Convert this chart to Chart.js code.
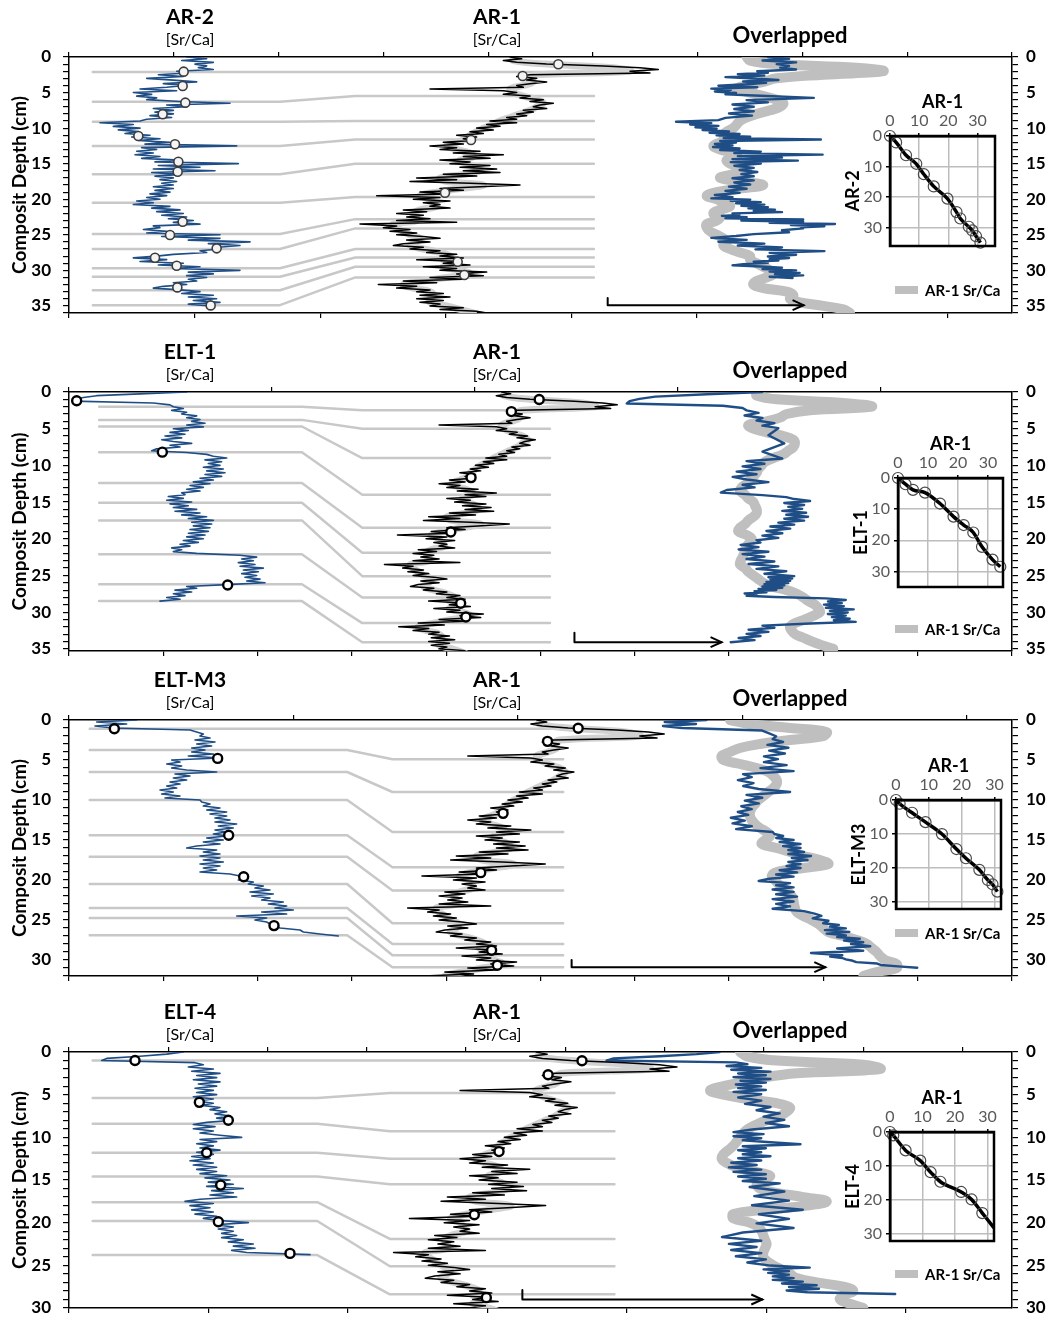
<!DOCTYPE html>
<html>
<head>
<meta charset="utf-8">
<title>Sr/Ca depth correlation</title>
<script src="https://cdn.jsdelivr.net/npm/chart.js@4.4.1/dist/chart.umd.min.js"></script>
<style>
  body { margin: 0; background: #fff; }
  #page { position: relative; width: 1053px; height: 1317px; overflow: hidden; }
  #page canvas { position: absolute; }
</style>
</head>
<body>
<div id="page"></div>
<script>
// Sr/Ca profiles against composite depth (cm)
// profiles are sampled every 0.25 cm, overlap curves every 0.5 cm

const PROFILE_STEP = 0.25;
const OVERLAP_STEP = 0.5;

// reference core AR-1
const AR1_SRCA = [
    9.040, 9.075, 9.020, 9.060, 9.150, 9.320, 9.430, 9.485,
    9.400, 9.460, 9.100, 9.060, 9.120, 9.090, 9.150, 9.100,
    9.060, 9.080, 8.800, 9.020, 9.060, 9.020, 9.100, 9.070,
    9.140, 9.100, 9.170, 9.130, 9.110, 9.150, 9.080, 9.110,
    9.060, 9.090, 9.030, 9.060, 8.980, 9.060, 8.970, 9.010,
    8.940, 8.990, 8.920, 8.960, 8.880, 8.940, 8.900, 8.930,
    8.840, 8.900, 8.800, 8.880, 8.830, 8.950, 8.870, 9.020,
    8.900, 8.980, 8.830, 8.920, 8.860, 8.980, 8.890, 9.000,
    8.900, 9.010, 8.840, 8.940, 8.760, 8.880, 8.740, 8.920,
    9.070, 8.950, 8.830, 8.900, 8.770, 8.850, 8.640, 8.830,
    8.750, 8.860, 8.780, 8.830, 8.800, 8.860, 8.720, 8.790,
    8.700, 8.780, 8.730, 8.800, 8.700, 8.880, 8.590, 8.700,
    8.660, 8.740, 8.680, 8.760, 8.700, 8.780, 8.830, 8.730,
    8.800, 8.720, 8.690, 8.780, 8.740, 8.830, 8.790, 8.880,
    8.830, 8.900, 8.760, 8.890, 8.840, 8.920, 8.780, 8.880,
    8.830, 8.970, 8.880, 8.960, 8.800, 8.900, 8.720, 8.820,
    8.645, 8.760, 8.700, 8.800, 8.760, 8.840, 8.770, 8.860,
    8.760, 8.840, 8.770, 8.830, 8.800, 8.900, 8.830, 8.940,
    8.970
];
// smoothed AR-1 drawn as the halo behind the raw profile
const AR1_SMOOTH = [
    9.05, 9.05, 9.15, 9.35, 9.40, 9.12, 9.10, 9.11,
    9.08, 9.04, 9.05, 9.08, 9.12, 9.14, 9.12, 9.10,
    9.07, 9.04, 9.01, 8.99, 8.96, 8.94, 8.92, 8.91,
    8.88, 8.85, 8.88, 8.92, 8.93, 8.89, 8.91, 8.94,
    8.95, 8.90, 8.83, 8.85, 8.96, 8.89, 8.82, 8.77,
    8.80, 8.81, 8.82, 8.77, 8.75, 8.76, 8.76, 8.69,
    8.70, 8.72, 8.74, 8.77, 8.76, 8.74, 8.78, 8.83,
    8.86, 8.84, 8.87, 8.84, 8.89, 8.92, 8.85, 8.78,
    8.72, 8.75, 8.80, 8.81, 8.80, 8.80, 8.85, 8.89,
    8.93
];
const AR1_MARK_DEPTH = [1.03, 2.67, 11.67, 19.08, 28.79, 30.66];
const AR1_MARK_SRCA = [9.185, 9.078, 8.923, 8.845, 8.883, 8.903];

// AR-2
const AR2_SRCA = [
    9.060, 9.120, 9.045, 9.140, 9.085, 9.120, 9.095, 9.140,
    9.030, 9.060, 8.975, 9.050, 8.940, 9.020, 9.090, 8.990,
    9.055, 9.000, 8.920, 9.030, 8.900, 8.955, 8.910, 8.970,
    8.940, 9.040, 9.190, 9.000, 9.060, 8.960, 9.020, 8.965,
    9.020, 8.950, 9.015, 8.940, 8.920, 8.800, 8.900, 8.840,
    8.920, 8.855, 8.915, 8.875, 8.950, 8.895, 8.980, 8.915,
    9.010, 8.935, 9.210, 8.925, 8.970, 8.910, 8.960, 8.905,
    8.980, 8.925, 9.040, 8.965, 9.215, 8.975, 9.100, 8.960,
    9.145, 8.955, 9.040, 8.965, 9.020, 8.980, 9.030, 8.985,
    9.020, 8.960, 9.020, 8.965, 9.010, 8.950, 9.000, 8.940,
    8.980, 8.910, 8.960, 8.900, 9.010, 8.955, 9.040, 8.970,
    9.050, 8.985, 9.060, 9.005, 9.080, 9.020, 9.100, 8.960,
    8.980, 8.930, 9.000, 8.940, 9.160, 8.985, 9.160, 9.065,
    9.250, 9.125, 9.220, 9.155, 9.160, 9.100, 9.120, 9.020,
    8.970, 8.900, 9.000, 8.920, 9.050, 8.975, 9.100, 9.025,
    9.220, 9.065, 9.140, 9.060, 9.120, 9.065, 9.090, 9.020,
    9.060, 8.990, 8.960, 9.040, 9.100, 9.045, 9.140, 9.065,
    9.150, 9.080, 9.160, 9.065,
    9.130
];
const AR2_MARK_DEPTH = [2.06, 4.08, 6.42, 8.06, 11.11, 12.28, 14.72, 16.13, 23.16, 25.03, 26.91, 28.22, 29.35, 32.40, 34.93];
const AR2_MARK_SRCA = [9.051, 9.048, 9.056, 8.988, 8.915, 9.025, 9.035, 9.033, 9.048, 9.010, 9.150, 8.965, 9.030, 9.032, 9.132];

// ELT-1
const ELT1_SRCA = [
    9.060, 8.920, 8.790, 8.750, 8.725, 8.718, 8.960, 9.010,
    9.020, 9.050, 9.015, 9.060, 9.045, 9.090, 9.060, 9.100,
    9.075, 9.115, 9.060, 9.110, 9.020, 9.065, 9.010, 9.055,
    8.995, 9.045, 8.985, 9.020, 9.075, 9.010, 9.040, 8.970,
    8.955, 9.060, 9.120, 9.140, 9.180, 9.115, 9.165, 9.125,
    9.160, 9.110, 9.170, 9.120, 9.175, 9.115, 9.165, 9.100,
    9.140, 9.080, 9.130, 9.070, 9.110, 9.060, 9.100, 9.045,
    9.055, 9.005, 9.050, 9.000, 9.075, 9.010, 9.065, 9.020,
    9.090, 9.025, 9.100, 9.045, 9.120, 9.065, 9.140, 9.075,
    9.135, 9.080, 9.130, 9.070, 9.125, 9.065, 9.115, 9.060,
    9.110, 9.050, 9.095, 9.040, 9.070, 9.015, 9.045, 9.020,
    9.090, 9.220, 9.270, 9.225, 9.260, 9.215, 9.265, 9.220,
    9.290, 9.230, 9.275, 9.225, 9.270, 9.235, 9.280, 9.240,
    9.295, 9.180, 9.060, 9.090, 9.025, 9.075, 9.020, 9.055,
    9.000, 9.040, 8.980
];
const ELT1_MARK_DEPTH = [1.2, 8.2, 26.3];
const ELT1_MARK_SRCA = [8.730, 8.987, 9.183];

// ELT-M3
const ELTM3_SRCA = [
    8.910, 8.790, 8.880, 8.785, 8.840, 9.070, 9.090, 9.110,
    9.100, 9.130, 9.085, 9.145, 9.090, 9.135, 9.075, 9.115,
    9.075, 9.140, 9.065, 9.160, 9.015, 9.040, 9.000, 9.045,
    9.015, 9.060, 9.150, 9.025, 9.070, 9.020, 9.060, 9.010,
    9.040, 9.000, 9.030, 8.980, 9.020, 8.985, 9.040, 8.995,
    9.100, 9.105, 9.130, 9.110, 9.160, 9.120, 9.180, 9.130,
    9.180, 9.145, 9.190, 9.145, 9.210, 9.155, 9.200, 9.145,
    9.180, 9.140, 9.180, 9.120, 9.170, 9.110, 9.160, 9.090,
    9.060, 9.150, 9.110, 9.160, 9.100, 9.160, 9.110, 9.170,
    9.100, 9.160, 9.110, 9.150, 9.100, 9.190, 9.220, 9.240,
    9.215, 9.260, 9.245, 9.290, 9.265, 9.310, 9.250, 9.320,
    9.255, 9.310, 9.285, 9.350, 9.305, 9.360, 9.325, 9.380,
    9.285, 9.360, 9.210, 9.300, 9.265, 9.300, 9.310, 9.330,
    9.340, 9.400, 9.410, 9.460,
    9.515
];
const ELTM3_MARK_DEPTH = [1.1, 4.8, 14.4, 19.6, 25.7];
const ELTM3_MARK_SRCA = [8.843, 9.153, 9.186, 9.231, 9.322];

// ELT-4
const ELT4_SRCA = [
    9.050, 9.000, 8.920, 8.820, 8.805, 9.085, 9.110, 9.065,
    9.140, 9.075, 9.160, 9.090, 9.150, 9.080, 9.160, 9.095,
    9.150, 9.085, 9.140, 9.090, 9.150, 9.080, 9.140, 9.090,
    9.140, 9.105, 9.160, 9.130, 9.180, 9.145, 9.190, 9.150,
    9.200, 9.120, 9.080, 9.145, 9.080, 9.140, 9.100, 9.160,
    9.225, 9.100, 9.150, 9.090, 9.140, 9.100, 9.160, 9.090,
    9.140, 9.075, 9.130, 9.070, 9.140, 9.080, 9.150, 9.090,
    9.150, 9.100, 9.180, 9.115, 9.190, 9.125, 9.200, 9.120,
    9.230, 9.135, 9.200, 9.130, 9.210, 9.100, 9.055, 9.140,
    9.070, 9.130, 9.075, 9.140, 9.085, 9.150, 9.110, 9.160,
    9.245, 9.145, 9.200, 9.155, 9.200, 9.165, 9.210, 9.165,
    9.230, 9.185, 9.260, 9.200, 9.265, 9.195, 9.240, 9.430
];
const ELT4_MARK_DEPTH = [1.0, 5.9, 8.0, 11.8, 15.6, 19.9, 23.6];
const ELT4_MARK_SRCA = [8.905, 9.098, 9.185, 9.120, 9.162, 9.155, 9.370];

// AR-1 Sr/Ca as shown under each overlapped core
const OVERLAP_AR1_AR2 = [
    8.97, 8.98, 9.06, 9.30, 9.38, 9.20, 9.06, 9.02,
    8.97, 8.94, 8.98, 9.02, 9.06, 9.08, 9.07, 9.04,
    9.00, 8.97, 8.95, 8.94, 8.93, 8.91, 8.90, 8.91,
    8.89, 8.87, 8.89, 8.93, 8.94, 8.91, 8.92, 8.95,
    8.97, 8.93, 8.89, 8.95, 9.02, 8.95, 8.88, 8.85,
    8.88, 8.90, 8.92, 8.89, 8.87, 8.89, 8.88, 8.85,
    8.85, 8.86, 8.88, 8.90, 8.91, 8.90, 8.92, 8.95,
    8.98, 8.98, 9.00, 9.02, 9.04, 9.05, 9.03, 9.00,
    8.99, 9.02, 9.09, 9.11, 9.10, 9.13, 9.20, 9.26,
    9.28
];
const OVERLAP_AR1_ELT1 = [
    9.000, 9.000, 9.060, 9.260, 9.345, 9.160, 9.090, 9.070,
    9.030, 8.975, 8.990, 9.030, 9.080, 9.110, 9.115, 9.110,
    9.095, 9.080, 9.050, 9.025, 9.015, 9.005, 9.000, 8.990,
    8.980, 8.970, 8.955, 8.950, 8.965, 8.975, 8.990, 8.995,
    9.000, 9.000, 8.990, 8.975, 8.965, 8.950, 8.945, 8.970,
    8.985, 8.980, 8.970, 8.965, 8.962, 8.958, 8.952, 8.950,
    8.965, 8.975, 8.990, 9.005, 9.020, 9.045, 9.090, 9.120,
    9.140, 9.155, 9.175, 9.185, 9.190, 9.170, 9.145, 9.115,
    9.100, 9.105, 9.115, 9.140, 9.165, 9.195, 9.230
];
const OVERLAP_AR1_ELTM3 = [
    8.920, 8.980, 9.100, 9.210, 9.200, 9.100, 9.010, 8.950,
    8.920, 8.895, 8.900, 8.950, 9.000, 9.035, 9.050, 9.060,
    9.060, 9.050, 9.035, 9.020, 9.005, 8.995, 8.985, 8.980,
    8.980, 8.985, 8.995, 9.010, 9.030, 9.040, 9.025, 9.015,
    9.060, 9.100, 9.140, 9.190, 9.215, 9.140, 9.060, 9.045,
    9.055, 9.065, 9.080, 9.095, 9.105, 9.110, 9.112, 9.115,
    9.120, 9.140, 9.165, 9.185, 9.200, 9.215, 9.260, 9.300,
    9.330, 9.345, 9.360, 9.370, 9.385, 9.420, 9.420, 9.360,
    9.320
];
const OVERLAP_AR1_ELT4 = [
    8.950, 8.970, 9.060, 9.320, 9.370, 9.120, 9.020, 8.960,
    8.900, 8.860, 8.900, 8.970, 9.060, 9.100, 9.090, 9.070,
    9.030, 9.000, 8.975, 8.960, 8.950, 8.940, 8.930, 8.915,
    8.900, 8.895, 8.910, 8.940, 8.990, 9.040, 9.020, 9.000,
    9.010, 9.060, 9.140, 9.210, 9.150, 9.020, 8.930, 8.930,
    8.980, 9.005, 9.015, 9.020, 9.025, 9.030, 9.025, 9.020,
    9.020, 9.030, 9.050, 9.075, 9.100, 9.120, 9.180, 9.260,
    9.290, 9.260, 9.250, 9.280,
    9.320
];

// tie points: depth in the core -> depth in AR-1 (cm)
const TIE_AR2_CORE = [2.1, 6.3, 9.1, 12.5, 16.5, 20.5, 24.9, 27.0, 29.7, 30.9, 32.8, 34.9];
const TIE_AR2_AR1 = [2.1, 5.5, 9.0, 11.6, 15.0, 19.7, 22.8, 24.1, 27.0, 28.2, 29.5, 31.0];
const TIE_ELT1_CORE = [2.0, 3.8, 4.7, 8.2, 12.4, 15.1, 17.5, 22.1, 26.2, 28.5];
const TIE_ELT1_AR1 = [2.5, 5.0, 9.0, 14.0, 18.5, 21.9, 25.1, 28.0, 31.5, 34.1];
const TIE_ELTM3_CORE = [1.1, 3.75, 6.5, 10.0, 14.4, 17.1, 20.5, 23.5, 24.75, 26.9];
const TIE_ELTM3_AR1 = [1.1, 4.9, 9.0, 14.0, 18.4, 21.3, 25.4, 28.0, 29.4, 30.9];
const TIE_ELT4_CORE = [1.0, 5.4, 8.4, 11.8, 14.6, 17.6, 19.8, 23.8];
const TIE_ELT4_AR1 = [1.0, 4.8, 9.3, 12.5, 15.5, 21.9, 25.1, 28.4];

const PANELS = [
    { core: 'AR-2', srca: AR2_SRCA, markDepth: AR2_MARK_DEPTH, markSrca: AR2_MARK_SRCA,
      tieCore: TIE_AR2_CORE, tieAr1: TIE_AR2_AR1, overlap: OVERLAP_AR1_AR2 },
    { core: 'ELT-1', srca: ELT1_SRCA, markDepth: ELT1_MARK_DEPTH, markSrca: ELT1_MARK_SRCA,
      tieCore: TIE_ELT1_CORE, tieAr1: TIE_ELT1_AR1, overlap: OVERLAP_AR1_ELT1 },
    { core: 'ELT-M3', srca: ELTM3_SRCA, markDepth: ELTM3_MARK_DEPTH, markSrca: ELTM3_MARK_SRCA,
      tieCore: TIE_ELTM3_CORE, tieAr1: TIE_ELTM3_AR1, overlap: OVERLAP_AR1_ELTM3 },
    { core: 'ELT-4', srca: ELT4_SRCA, markDepth: ELT4_MARK_DEPTH, markSrca: ELT4_MARK_SRCA,
      tieCore: TIE_ELT4_CORE, tieAr1: TIE_ELT4_AR1, overlap: OVERLAP_AR1_ELT4 },
];

// page layout: canvas slots, axis windows for each column, connector columns
const PAGE_W = 1053;
const PLOT_LEFT = 69;
const PLOT_RIGHT = 1012;
const CORE_AXIS = [8.707, 11.536];
const OVERLAP_AXIS = [6.937, 9.766];
const LAYOUT = [
    { top: 0, height: 330, areaTop: 57, areaBottom: 313, depthMax: 36, bottomMax: 7.51, topMax: 9,
      ar1: [7.717, 10.546], ovBlue: [7.082, 9.751], tieX: [0.19, 1.68, 2.28, 4.18],
      arrow: { x0: 4.29, x1: 5.85, y0: 33.9, y1: 34.9 }, legendY: 290,
      inset: { x0: 890, y0: 136, x1: 995, y1: 246, max: 36, extend: false }, light: true },
    { top: 330, height: 332, areaTop: 62, areaBottom: 321, depthMax: 35.3, bottomMax: 10, topMax: 4.645,
      ar1: [7.377, 11.003], ovBlue: [7.312, 9.689], tieX: [0.32, 2.47, 3.11, 5.10],
      arrow: { x0: 5.36, x1: 6.92, y0: 32.8, y1: 34.1 }, legendY: 299,
      inset: { x0: 898, y0: 478, x1: 1003, y1: 587, max: 35, extend: false }, light: false },
    { top: 662, height: 330, areaTop: 58, areaBottom: 314, depthMax: 32, bottomMax: 10, topMax: 4.2,
      ar1: [7.409, 10.698], ovBlue: [7.080, 9.787], tieX: [0.22, 2.95, 3.43, 5.24],
      arrow: { x0: 5.33, x1: 8.02, y0: 30.0, y1: 30.9 }, legendY: 271,
      inset: { x0: 896, y0: 800, x1: 1001, y1: 909, max: 32, extend: false }, light: false },
    { top: 992, height: 325, areaTop: 60, areaBottom: 316, depthMax: 30, bottomMax: 6.76, topMax: 9.5,
      ar1: [7.565, 10.543], ovBlue: [7.641, 9.683], tieX: [0.17, 1.78, 2.30, 3.91],
      arrow: { x0: 3.25, x1: 4.97, y0: 27.9, y1: 29.0 }, legendY: 282,
      inset: { x0: 890, y0: 1132, x1: 994, y1: 1241, max: 32, extend: true }, light: false },
];

const BLUE = '#1f4e87';
const TIE_GRAY = '#c8c8c8';
const BAND_GRAY = '#d2d2d2';
const OVERLAP_GRAY = '#bfbfbf';
const FONT = 'Lato, "Open Sans", sans-serif';

Chart.defaults.font.family = FONT;
Chart.defaults.color = '#000';

function profile(values, step) {
    return values.map((v, i) => ({ x: v, y: i * step }));
}

// core depth -> AR-1 depth, linear between tie points (origin tied to origin)
function toAr1Depth(d, coreTies, ar1Ties) {
    const c = [0, ...coreTies];
    const a = [0, ...ar1Ties];
    let i = 1;
    while (i < c.length - 1 && d > c[i]) i++;
    const t = (d - c[i - 1]) / (c[i] - c[i - 1]);
    return a[i - 1] + t * (a[i] - a[i - 1]);
}

function lineSet(data, axis, color, width, extra) {
    return Object.assign({
        data, xAxisID: axis, yAxisID: 'y', showLine: true,
        borderColor: color, backgroundColor: color, borderWidth: width,
        pointRadius: 0, tension: 0, borderJoinStyle: 'round', borderCapStyle: 'round',
    }, extra || {});
}

function markSet(depths, values, axis, light, depthMax) {
    const pts = depths.map((d, i) => ({ x: values[i], y: d })).filter(p => p.y <= depthMax);
    return {
        data: pts, xAxisID: axis, yAxisID: 'y', showLine: false,
        pointRadius: 4.5,
        pointBackgroundColor: light ? '#f4f4f4' : '#fff',
        pointBorderColor: light ? '#3c3c3c' : '#000',
        pointBorderWidth: light ? 1.6 : 2.4,
    };
}

function addCanvas(left, top, w, h) {
    const cv = document.createElement('canvas');
    cv.width = w;
    cv.height = h;
    cv.style.left = left + 'px';
    cv.style.top = top + 'px';
    cv.style.width = w + 'px';
    cv.style.height = h + 'px';
    document.getElementById('page').appendChild(cv);
    return cv;
}

// fixed axis thickness; vertical axes also drop the label overhang so the plot keeps its height
function fixWidth(w) {
    return s => { s.width = w; s.paddingTop = 0; s.paddingBottom = 0; };
}
function fixHeight(h) {
    return s => { s.height = h; s.paddingLeft = 0; s.paddingRight = 0; };
}

// headers, legend and arrow head
const panelText = {
    id: 'panelText',
    afterDraw(chart, args, o) {
        const { ctx, chartArea } = chart;
        ctx.save();
        ctx.fillStyle = '#000';
        ctx.textAlign = 'center';
        ctx.textBaseline = 'middle';
        ctx.font = 'bold 21px ' + FONT;
        ctx.fillText(o.core, 190, chartArea.top - 40);
        ctx.fillText('AR-1', 497, chartArea.top - 40);
        ctx.font = 'bold 22px ' + FONT;
        ctx.fillText('Overlapped', 790, chartArea.top - 21);
        ctx.font = '16px ' + FONT;
        ctx.fillText('[Sr/Ca]', 190, chartArea.top - 17);
        ctx.fillText('[Sr/Ca]', 497, chartArea.top - 17);

        ctx.strokeStyle = OVERLAP_GRAY;
        ctx.lineWidth = 8;
        ctx.beginPath();
        ctx.moveTo(895, o.legendY);
        ctx.lineTo(918, o.legendY);
        ctx.stroke();
        ctx.textAlign = 'left';
        ctx.font = 'bold 15px ' + FONT;
        ctx.fillText('AR-1 Sr/Ca', 925, o.legendY + 1);

        const ax = chart.scales.x.getPixelForValue(o.arrow.x1);
        const ay = chart.scales.y.getPixelForValue(o.arrow.y1);
        ctx.strokeStyle = '#000';
        ctx.lineWidth = 2;
        ctx.beginPath();
        ctx.moveTo(ax - 11, ay - 5);
        ctx.lineTo(ax, ay);
        ctx.lineTo(ax - 11, ay + 5);
        ctx.stroke();
        ctx.restore();
    }
};

const insetFrame = {
    id: 'insetFrame',
    afterDraw(chart) {
        const { ctx, chartArea: a } = chart;
        ctx.save();
        ctx.strokeStyle = '#000';
        ctx.lineWidth = 2.5;
        ctx.strokeRect(a.left, a.top, a.right - a.left, a.bottom - a.top);
        ctx.restore();
    }
};

function depthAxis(pos, lay) {
    const left = pos === 'left';
    return {
        type: 'linear', position: pos, reverse: true, min: 0, max: lay.depthMax,
        afterFit: fixWidth(left ? PLOT_LEFT : PAGE_W - PLOT_RIGHT),
        border: { color: '#000', width: 1.5 },
        grid: { drawOnChartArea: false, color: '#000', tickLength: 6, lineWidth: 1.2 },
        ticks: {
            stepSize: 1, autoSkip: false, includeBounds: false, padding: left ? 12 : 8,
            color: '#000', font: { size: 17, weight: 'bold' },
            callback: v => (v % 5 === 0 ? v : ''),
        },
        title: {
            display: left, text: 'Composit Depth (cm)', color: '#000',
            font: { size: 19, weight: 'bold' }, padding: { top: 8, bottom: 0 },
        },
    };
}

function tickAxis(pos, max, h) {
    return {
        type: 'linear', position: pos, min: 0, max,
        afterFit: fixHeight(h),
        border: { color: '#000', width: 1.5 },
        grid: { drawOnChartArea: false, color: '#000', tickLength: 5, lineWidth: 1.2 },
        ticks: { display: false, stepSize: 1, includeBounds: false },
    };
}

function hiddenAxis(range) {
    return { type: 'linear', display: false, min: range[0], max: range[1] };
}

function buildPanel(p, lay) {
    const cv = addCanvas(0, lay.top, PAGE_W, lay.height);

    const coreLine = profile(p.srca, PROFILE_STEP);
    const coreOnAr1 = p.srca.map((v, i) => ({ x: v, y: toAr1Depth(i * PROFILE_STEP, p.tieCore, p.tieAr1) }));
    const tx = lay.tieX;
    const ties = p.tieCore.map((c, i) => lineSet([
        { x: tx[0], y: c }, { x: tx[1], y: c },
        { x: tx[2], y: p.tieAr1[i] }, { x: tx[3], y: p.tieAr1[i] },
    ], 'x', TIE_GRAY, 2.5));
    const a = lay.arrow;

    const datasets = [
        markSet(p.markDepth, p.markSrca, 'xc', lay.light, lay.depthMax),
        markSet(AR1_MARK_DEPTH, AR1_MARK_SRCA, 'xa', lay.light, lay.depthMax),
        lineSet(profile(AR1_SRCA, PROFILE_STEP), 'xa', '#000', 1.5),
        lineSet(coreLine, 'xc', BLUE, 1.6),
        lineSet(coreOnAr1, 'xb', BLUE, 2.4),
        lineSet([{ x: a.x0, y: a.y0 }, { x: a.x0, y: a.y1 }, { x: a.x1, y: a.y1 }], 'x', '#000', 2),
        lineSet(profile(AR1_SMOOTH, OVERLAP_STEP), 'xa', BAND_GRAY, 7, { tension: 0.4 }),
        lineSet(profile(p.overlap, OVERLAP_STEP), 'xo', OVERLAP_GRAY, 10, { tension: 0.4 }),
        ...ties,
    ];

    new Chart(cv, {
        type: 'scatter',
        data: { datasets },
        options: {
            responsive: false, animation: false, events: [], devicePixelRatio: 1,
            layout: { padding: 0 },
            plugins: {
                legend: { display: false }, tooltip: { enabled: false },
                panelText: { core: p.core, legendY: lay.legendY, arrow: lay.arrow },
            },
            scales: {
                x: tickAxis('bottom', lay.bottomMax, lay.height - lay.areaBottom),
                x2: tickAxis('top', lay.topMax, lay.areaTop),
                y: depthAxis('left', lay),
                y2: depthAxis('right', lay),
                xc: hiddenAxis(CORE_AXIS),
                xa: hiddenAxis(lay.ar1),
                xb: hiddenAxis(lay.ovBlue),
                xo: hiddenAxis(OVERLAP_AXIS),
            },
        },
        plugins: [panelText],
    });
}

function buildInset(p, lay) {
    const b = lay.inset;
    const padL = 52, padT = 46, padR = 8, padB = 8;
    const cv = addCanvas(b.x0 - padL, b.y0 - padT, b.x1 - b.x0 + padL + padR, b.y1 - b.y0 + padT + padB);
    const pts = [{ x: 0, y: 0 }, ...p.tieAr1.map((d, i) => ({ x: d, y: p.tieCore[i] }))];
    const curve = pts.slice();
    if (b.extend) {
        // carry the last tie segment on to the right edge of the box
        const n = pts.length;
        const s = (pts[n - 1].y - pts[n - 2].y) / (pts[n - 1].x - pts[n - 2].x);
        curve.push({ x: b.max, y: pts[n - 1].y + s * (b.max - pts[n - 1].x) });
    }
    const tickFont = { size: 16 };

    new Chart(cv, {
        type: 'scatter',
        data: {
            datasets: [
                { data: pts, showLine: false, clip: false, pointRadius: 5.5,
                  pointBackgroundColor: 'rgba(0,0,0,0)', pointBorderColor: '#4a4a4a', pointBorderWidth: 1.2 },
                { data: curve, showLine: true, pointRadius: 0, borderColor: '#000', borderWidth: 3.5,
                  cubicInterpolationMode: 'monotone' },
            ],
        },
        options: {
            responsive: false, animation: false, events: [], devicePixelRatio: 1,
            layout: { padding: { right: padR, bottom: padB } },
            plugins: { legend: { display: false }, tooltip: { enabled: false } },
            scales: {
                x: {
                    type: 'linear', position: 'top', min: 0, max: b.max,
                    afterFit: fixHeight(padT),
                    border: { color: '#000', width: 2.5 },
                    grid: { color: '#bdbdbd', lineWidth: 1.5, tickLength: 3, tickColor: '#000' },
                    ticks: { stepSize: 10, includeBounds: false, padding: 3, color: '#595959', font: tickFont },
                    title: { display: true, text: 'AR-1', color: '#000', font: { size: 18, weight: 'bold' },
                             padding: { top: 1, bottom: 0 } },
                },
                y: {
                    type: 'linear', position: 'left', reverse: true, min: 0, max: b.max,
                    afterFit: fixWidth(padL),
                    border: { color: '#000', width: 2.5 },
                    grid: { color: '#bdbdbd', lineWidth: 1.5, tickLength: 4, tickColor: '#000' },
                    ticks: { stepSize: 10, includeBounds: false, padding: 4, color: '#595959', font: tickFont },
                    title: { display: true, text: p.core, color: '#000', font: { size: 18, weight: 'bold' },
                             padding: { top: 4, bottom: 0 } },
                },
            },
        },
        plugins: [insetFrame],
    });
}

PANELS.forEach((p, i) => buildPanel(p, LAYOUT[i]));
PANELS.forEach((p, i) => buildInset(p, LAYOUT[i]));
</script>
</body>
</html>
